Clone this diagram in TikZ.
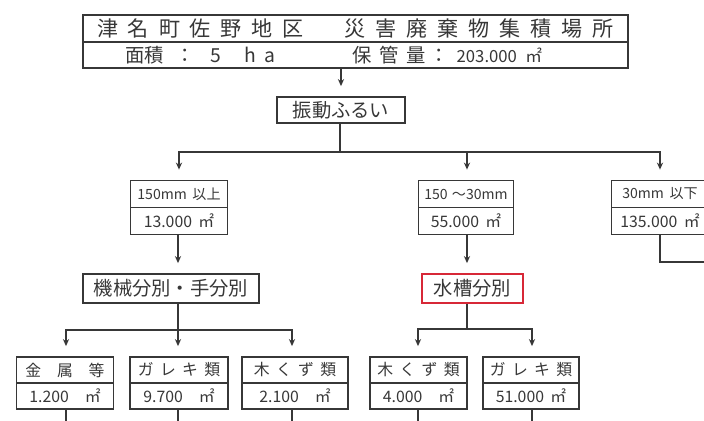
\documentclass[tikz,border=0pt]{standalone}
\usepackage{fontspec}
\setmainfont{Noto Sans CJK JP}
\newfontfamily\jpwide{Noto Sans CJK JP}[LetterSpace=40]
\newfontfamily\jptitle{Noto Sans CJK JP}[LetterSpace=47]
\usetikzlibrary{arrows.meta}
\definecolor{inkgray}{RGB}{55,55,55}
\definecolor{boxred}{RGB}{215,40,55}
\tikzset{
  cell/.style={draw=inkgray, line width=1pt, inner sep=0pt, text=inkgray},
  label text/.style={inner sep=0pt, text=inkgray},
  flowline/.style={draw=inkgray, line width=0.8pt},
  flowarrow/.style={flowline, -{Stealth[length=4pt,width=3.5pt]}, shorten >=0.2cm},
}

\begin{document}
\begin{tikzpicture}[x=0.02cm, y=-0.02cm]
\useasboundingbox (0,0) rectangle (704,421);
\clip (0,0) rectangle (704,421);
\node[cell, minimum width=10.9cm, minimum height=0.54cm, font=\fontsize{12}{12}\jptitle] (Waste flowNtitleA) at (355.5,28.5) {津名町佐野地区　災害廃棄物集積場所};
\node[cell, minimum width=10.9cm, minimum height=0.52cm] (Waste flowNtitleB) at (355.5,55) {};
\node[label text, anchor=west, font=\fontsize{11}{11}\selectfont] (Waste flowNarea) at (125,55) {面積\hspace{0.6em}：\hspace{0.8em}5\hspace{1.2em}h\hspace{0.45em}a};
\node[label text, anchor=west, font=\fontsize{11}{11}\selectfont] (Waste flowNvolume) at (352,55) {{\jpwide 保管量}\hspace{0.2em}：\hspace{0.4em}{\fontsize{9.5}{10}\selectfont 203.000\hspace{0.5em}㎡}};
\node[cell, minimum width=2.56cm, minimum height=0.52cm, font=\fontsize{11}{11}\selectfont] (Waste flowNsieve) at (341,110) {振動ふるい};
\coordinate (Waste flowNsplitA) at (340,152);
\node[cell, minimum width=1.94cm, minimum height=0.54cm, font=\fontsize{8}{9}\selectfont] (Waste flowNcoarseA) at (179,194) {150mm\hspace{0.4em}以上};
\node[cell, minimum width=1.94cm, minimum height=0.54cm, font=\fontsize{9}{10}\selectfont] (Waste flowNcoarseB) at (179,221) {13.000\hspace{0.4em}㎡};
\node[cell, minimum width=1.9cm, minimum height=0.54cm, font=\fontsize{8}{9}\selectfont] (Waste flowNmediumA) at (466,194) {150\hspace{0.3em}～30mm};
\node[cell, minimum width=1.9cm, minimum height=0.54cm, font=\fontsize{9}{10}\selectfont] (Waste flowNmediumB) at (466,221) {55.000\hspace{0.4em}㎡};
\node[cell, minimum width=1.94cm, minimum height=0.54cm, font=\fontsize{8}{9}\selectfont] (Waste flowNfineA) at (660,194) {30mm\hspace{0.4em}以下};
\node[cell, minimum width=1.94cm, minimum height=0.54cm, font=\fontsize{9}{10}\selectfont] (Waste flowNfineB) at (660,221) {135.000\hspace{0.4em}㎡};
\coordinate (Waste flowNexit) at (720,262);
\node[cell, minimum width=3.52cm, minimum height=0.58cm, font=\fontsize{11}{11}\selectfont] (Waste flowNmachine) at (171,288.5) {機械分別・手分別};
\node[cell, draw=boxred, minimum width=2.02cm, minimum height=0.58cm, font=\fontsize{11}{11}\selectfont] (Waste flowNwater) at (472.5,288.5) {水槽分別};
\coordinate (Waste flowNsplitB) at (178,330);
\coordinate (Waste flowNsplitC) at (467,329);
\node[cell, minimum width=1.94cm, minimum height=0.52cm, font=\fontsize{9}{10}\selectfont] (Waste flowNmetalA) at (65,370) {金　属　等};
\node[cell, minimum width=1.94cm, minimum height=0.52cm, font=\fontsize{9}{10}\selectfont] (Waste flowNmetalB) at (65,396) {1.200\hspace{1em}㎡};
\node[cell, minimum width=1.96cm, minimum height=0.52cm, font=\fontsize{9}{10}\jpwide] (Waste flowNrubbleA) at (179,370) {ガレキ類};
\node[cell, minimum width=1.96cm, minimum height=0.52cm, font=\fontsize{9}{10}\selectfont] (Waste flowNrubbleB) at (179,396) {9.700\hspace{1em}㎡};
\node[cell, minimum width=2.12cm, minimum height=0.52cm, font=\fontsize{9}{10}\jpwide] (Waste flowNwoodA) at (295,370) {木くず類};
\node[cell, minimum width=2.12cm, minimum height=0.52cm, font=\fontsize{9}{10}\selectfont] (Waste flowNwoodB) at (295,396) {2.100\hspace{1em}㎡};
\node[cell, minimum width=1.94cm, minimum height=0.52cm, font=\fontsize{9}{10}\jpwide] (Waste flowNwetwoodA) at (418.5,370) {木くず類};
\node[cell, minimum width=1.94cm, minimum height=0.52cm, font=\fontsize{9}{10}\selectfont] (Waste flowNwetwoodB) at (418.5,396) {4.000\hspace{1em}㎡};
\node[cell, minimum width=1.92cm, minimum height=0.52cm, font=\fontsize{9}{10}\jpwide] (Waste flowNwetrubbleA) at (531,370) {ガレキ類};
\node[cell, minimum width=1.92cm, minimum height=0.52cm, font=\fontsize{9}{10}\selectfont] (Waste flowNwetrubbleB) at (531,396) {51.000\hspace{0.4em}㎡};
\coordinate (Waste flowNoutA) at (66,440);
\coordinate (Waste flowNoutB) at (178,440);
\coordinate (Waste flowNoutC) at (292,440);
\coordinate (Waste flowNoutD) at (418,440);
\coordinate (Waste flowNoutE) at (532,440);
\draw[flowarrow] (Waste flowNsieve.north |- Waste flowNtitleB.south) -- (Waste flowNsieve.north);
\draw[flowline] (Waste flowNsieve.south -| Waste flowNsplitA) -- (Waste flowNsplitA);
\draw[flowarrow] (Waste flowNsplitA) -| (Waste flowNcoarseA.north);
\draw[flowarrow] (Waste flowNsplitA) -| (Waste flowNmediumA.north -| Waste flowNsplitC);
\draw[flowarrow] (Waste flowNsplitA) -| (Waste flowNfineA.north);
\draw[flowarrow] (Waste flowNcoarseB.south -| Waste flowNsplitB) -- (Waste flowNmachine.north -| Waste flowNsplitB);
\draw[flowarrow] (Waste flowNmediumB.south -| Waste flowNsplitC) -- (Waste flowNwater.north -| Waste flowNsplitC);
\draw[flowline] (Waste flowNfineB.south) |- (Waste flowNexit);
\draw[flowline] (Waste flowNmachine.south -| Waste flowNsplitB) -- (Waste flowNsplitB);
\draw[flowarrow] (Waste flowNsplitB) -| (Waste flowNmetalA.north -| Waste flowNoutA);
\draw[flowarrow] (Waste flowNsplitB) -- (Waste flowNrubbleA.north -| Waste flowNoutB);
\draw[flowarrow] (Waste flowNsplitB) -| (Waste flowNwoodA.north -| Waste flowNoutC);
\draw[flowline] (Waste flowNwater.south -| Waste flowNsplitC) -- (Waste flowNsplitC);
\draw[flowarrow] (Waste flowNsplitC) -| (Waste flowNwetwoodA.north -| Waste flowNoutD);
\draw[flowarrow] (Waste flowNsplitC) -| (Waste flowNwetrubbleA.north -| Waste flowNoutE);
\draw[flowline] (Waste flowNmetalB.south -| Waste flowNoutA) -- (Waste flowNoutA);
\draw[flowline] (Waste flowNrubbleB.south -| Waste flowNoutB) -- (Waste flowNoutB);
\draw[flowline] (Waste flowNwoodB.south -| Waste flowNoutC) -- (Waste flowNoutC);
\draw[flowline] (Waste flowNwetwoodB.south -| Waste flowNoutD) -- (Waste flowNoutD);
\draw[flowline] (Waste flowNwetrubbleB.south -| Waste flowNoutE) -- (Waste flowNoutE);
\end{tikzpicture}
\end{document}
